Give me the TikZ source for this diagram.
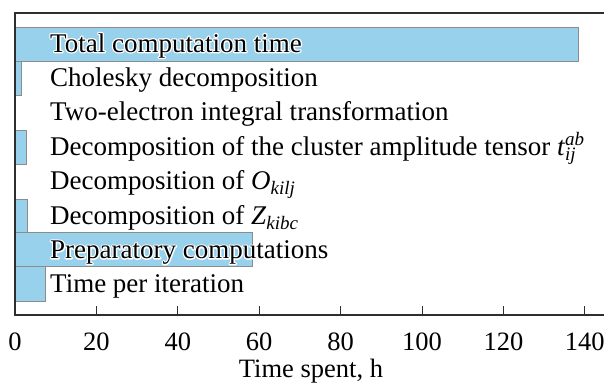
\documentclass[tikz,border=0pt]{standalone}
\usepackage{fontspec}
\setmainfont{Liberation Serif}
\usetikzlibrary{positioning, calc}
\definecolor{BarBlue}{HTML}{97D1EC}
\definecolor{BarEdge}{HTML}{8C8C8C}
\definecolor{AxisGray}{HTML}{2E2E2E}
\newcommand{\lowidx}[2]{\textit{#1}\raisebox{-0.42ex}{\fontsize{19}{19}\selectfont\itshape #2}}
\newcommand{\amptensor}{\textit{t}\rlap{\raisebox{0.8ex}{\fontsize{19}{19}\selectfont\itshape ab}}\raisebox{-0.4ex}{\fontsize{19}{19}\selectfont\itshape ij}}
% white outline behind text
\newcommand{\haloed}[1]{\rlap{\special{pdf:literal direct 1 Tr 2.6 w 1 1 1 RG 1 j}#1\special{pdf:literal direct 0 Tr}}#1}

\begin{document}
\begin{tikzpicture}[x=1pt, y=-1pt,
    bar/.style={fill=BarBlue, draw=BarEdge, line width=0.9pt},
    lbl/.style={anchor=base west, inner sep=0pt, font=\fontsize{27}{31}\selectfont},
    ticklbl/.style={anchor=base, inner sep=0pt, font=\fontsize{26.5}{30}\selectfont}]
        \useasboundingbox (0,0) rectangle (604,383);

        % Bars (value -> 15 + 4.07 v)
        \draw [bar] (15,27.0) rectangle (578,61.4);
        \draw [bar] (15,61.4) rectangle (21,95.8);
        \draw [bar] (15,130.2) rectangle (26,164.6);
        \draw [bar] (15,199.0) rectangle (27,232.4);
        \draw [bar] (15,232.4) rectangle (252,266.8);
        \draw [bar] (15,266.8) rectangle (45,301.2);

        % Labels
        \node [lbl] (total) at (50,52) {\haloed{Total computation time}};
        \node [lbl] (chol) at (50,86.4) {Cholesky decomposition};
        \node [lbl] (twoel) at (50,120.8) {Two-electron integral transformation};
        \node [lbl] (tamp) at (50,155.2) {Decomposition of the cluster amplitude tensor \amptensor};
        \node [lbl] (okilj) at (50,189.6) {Decomposition of \lowidx{O}{kilj}};
        \node [lbl] (zkibc) at (50,224) {Decomposition of \lowidx{Z}{kibc}};
        \node [lbl] (prep) at (50,258.4) {\haloed{Preparatory computations}};
        \node [lbl] (iter) at (50,292.8) {Time per iteration};

        % Axes
        \draw [AxisGray, line width=2pt] (604,13) -- (15,13) -- (15,315) -- (604,315);

        % Ticks
        \foreach \v in {0,20,...,140} {
            \draw [AxisGray, line width=1pt] ({15+4.07*\v},306) -- ({15+4.07*\v},315);
            \node [ticklbl] (tick\v) at ({15+4.07*\v},350) {\v};
        }
        \node [ticklbl] (xlabel) at (311,377) {Time spent, h};
    \end{tikzpicture}
\end{document}
